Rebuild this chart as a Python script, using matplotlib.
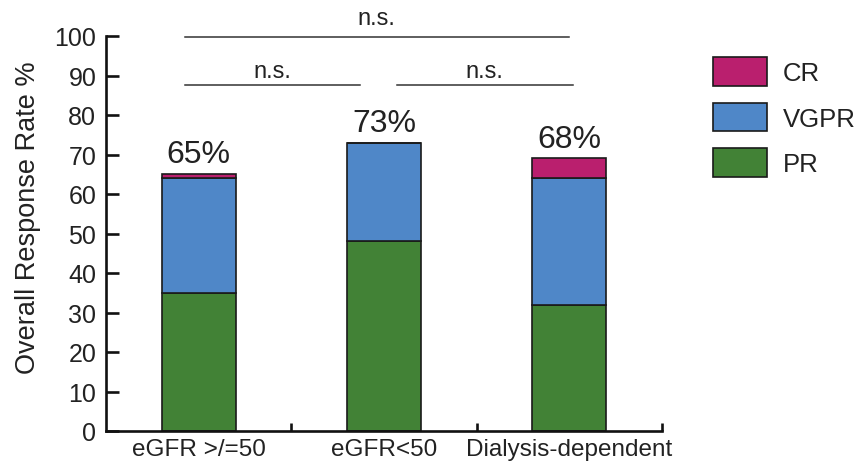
import matplotlib
matplotlib.use("Agg")
import matplotlib.pyplot as plt
import numpy as np

categories = ["eGFR >/=50", "eGFR<50", "Dialysis-dependent"]
pr = [35, 48, 32]
vgpr = [29, 25, 32]
cr = [1, 0, 5]
rate_labels = ["65%", "73%", "68%"]
y_ticks = [0, 10, 20, 30, 40, 50, 60, 70, 80, 90, 100]

c_cr = "#BA1F6E"
c_vgpr = "#4F87C8"
c_pr = "#428236"
txt = "#222222"

plt.rcParams["font.family"] = ["Liberation Sans", "DejaVu Sans"]

fig = plt.figure(figsize=(8.61, 4.64), dpi=100)
ax = fig.add_axes([106/861, 1-432/464, (662-106)/861, (432-37)/464])

x = np.arange(len(categories))
w = 0.4
ekw = dict(edgecolor="#1a1a1a", linewidth=1.2)
b_pr = ax.bar(x, pr, w, color=c_pr, label="PR", **ekw)
b_vg = ax.bar(x, vgpr, w, bottom=pr, color=c_vgpr, label="VGPR", **ekw)
bot2 = [a + b for a, b in zip(pr, vgpr)]
b_cr = ax.bar(x, cr, w, bottom=bot2, color=c_cr, label="CR", **ekw)
totals = [a + b for a, b in zip(bot2, cr)]

for xi, t, lab in zip(x, totals, rate_labels):
    ax.text(xi, t + 3, lab, ha="center", va="baseline", fontsize=23, color=txt)

ax.set_xlim(-0.5, 2.5)
ax.set_ylim(0, 100)
ax.set_yticks(y_ticks)
ax.set_xticks(x)
ax.set_xticklabels(categories)
ax.set_xticks([0.5, 1.5, 2.5], minor=True)

for s in ["top", "right"]:
    ax.spines[s].set_visible(False)
for s in ["left", "bottom"]:
    ax.spines[s].set_linewidth(1.9)
    ax.spines[s].set_color("#111111")

ax.tick_params(axis="y", direction="in", length=9.5, width=1.9, labelsize=18,
               pad=7, colors="#111111", labelcolor=txt)
ax.tick_params(axis="x", which="major", length=0, labelsize=17.5, pad=5, labelcolor=txt)
ax.tick_params(axis="x", which="minor", direction="in", length=5.5, width=1.9, colors="#111111")

ax.set_ylabel("Overall Response Rate %", fontsize=19.5, color=txt, va="center")
ax.yaxis.set_label_coords((28-106)/556, (432-218)/395)

# significance annotations
lc = "#333333"
ax.plot([-0.073, 1.996], [99.8, 99.8], color=lc, lw=1.1, clip_on=False)
ax.text(0.96, 103.0, "n.s.", ha="center", va="baseline", fontsize=17, color=txt, clip_on=False)
ax.plot([-0.073, 0.868], [87.6, 87.6], color=lc, lw=1.1, clip_on=False)
ax.plot([1.068, 2.02], [87.6, 87.6], color=lc, lw=1.1, clip_on=False)
ax.text(0.40, 89.5, "n.s.", ha="center", va="baseline", fontsize=17, color=txt, clip_on=False)
ax.text(1.54, 89.5, "n.s.", ha="center", va="baseline", fontsize=17, color=txt, clip_on=False)

fig.legend([b_cr, b_vg, b_pr], ["CR", "VGPR", "PR"], loc="upper left",
           bbox_to_anchor=(713/861, 1-58/464), frameon=False, fontsize=18.5,
           handlelength=2.1, handleheight=1.35, handletextpad=0.62,
           labelspacing=0.65, borderpad=0, borderaxespad=0, labelcolor=txt)

fig.savefig("out.png", dpi=100)
